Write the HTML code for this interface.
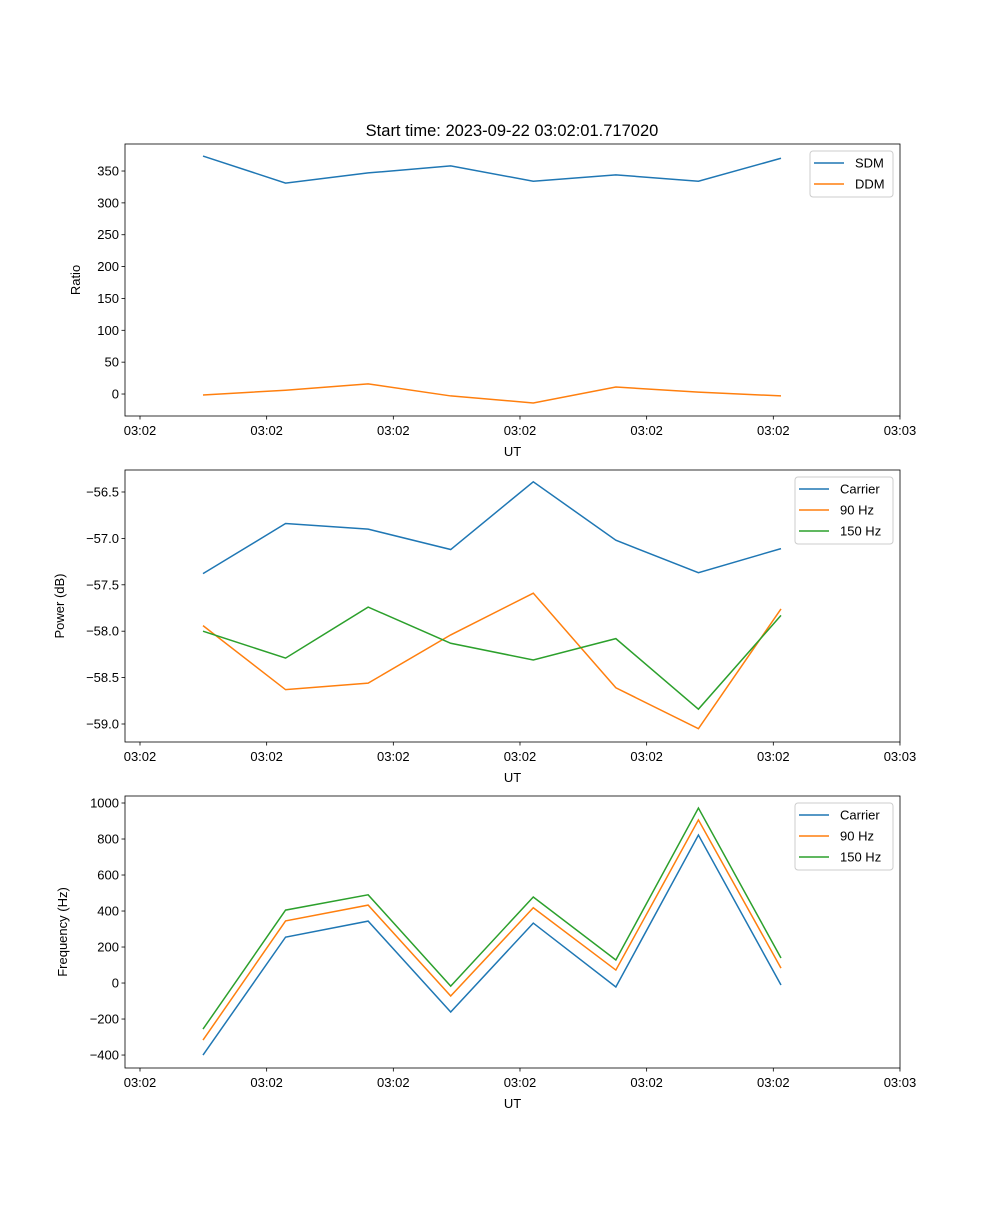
<!DOCTYPE html>
<html><head><meta charset="utf-8"><style>
body{margin:0;background:#fff}
svg text{font-family:"Liberation Sans","DejaVu Sans",sans-serif;fill:#000}
</style></head><body>
<svg id="fig" width="1000" height="1200" xmlns="http://www.w3.org/2000/svg"></svg>
<script>
const xIndex=[0,1,2,3,4,5,6,7];
const xTickPos=[-0.763,0.771,2.305,3.839,5.373,6.907,8.441];
const xTickLabels=["03:02","03:02","03:02","03:02","03:02","03:02","03:03"];
const sdm=[373.5,331,347,358,334,344,334,370];
const ddm=[-1.5,6,16,-3,-14,11,3,-3];
const ratioTicks=[0,50,100,150,200,250,300,350];
const powCarrier=[-57.38,-56.84,-56.90,-57.12,-56.39,-57.02,-57.37,-57.11];
const pow90=[-57.94,-58.63,-58.56,-58.04,-57.59,-58.61,-59.05,-57.76];
const pow150=[-58.0,-58.29,-57.74,-58.13,-58.31,-58.08,-58.84,-57.83];
const powTicks=[-59.0,-58.5,-58.0,-57.5,-57.0,-56.5];
const frqCarrier=[-400,255,344,-161,333,-22,822,-11];
const frq90=[-317,345,433,-72,418,72,906,83];
const frq150=[-256,405,490,-17,478,128,972,139];
const frqTicks=[-400,-200,0,200,400,600,800,1000];

const svg=document.getElementById('fig');
const NS='http://www.w3.org/2000/svg';
function mk(tag,attrs,parent){const e=document.createElementNS(NS,tag);for(const k in attrs)e.setAttribute(k,attrs[k]);(parent||svg).appendChild(e);return e;}
const L=125,R=900;
const xs=i=>203+i*82.57;
const C=['#1f77b4','#ff7f0e','#2ca02c'];

function panel(name,top,bottom,ymin,ymax,ticks,fmt,ylabel,series,labels,legend){
  const g=mk('g',{});
  
  
  const ys=v=>bottom-(v-ymin)/(ymax-ymin)*(bottom-top);
  series.forEach((s,k)=>{
    const p=mk('polyline',{points:s.map((v,i)=>xs(xIndex[i])+','+ys(v)).join(' '),fill:'none',stroke:C[k],'stroke-width':1.5},g);
    
    
  });
  const fr=mk('rect',{x:L,y:top,width:R-L,height:bottom-top,fill:'none',stroke:'#000','stroke-width':0.8},g);
  
  
  ticks.forEach(t=>{const y=ys(t);mk('line',{x1:L-3.5,x2:L,y1:y,y2:y,stroke:'#000','stroke-width':0.8},g);
    const tx=mk('text',{x:L-6,y:y+4.5,'font-size':13,'text-anchor':'end'},g);tx.textContent=fmt(t);
    
    });
  xTickPos.forEach((t,i)=>{const x=xs(t);mk('line',{x1:x,x2:x,y1:bottom,y2:bottom+3.5,stroke:'#000','stroke-width':0.8},g);
    const tx=mk('text',{x:x,y:bottom+19,'font-size':13,'text-anchor':'middle'},g);tx.textContent=xTickLabels[i];
    
    });
  const xl=mk('text',{x:(L+R)/2,y:bottom+40,'font-size':13,'text-anchor':'middle'},g);xl.textContent='UT';
  
  
  const yl=mk('text',{x:0,y:0,'font-size':13,'text-anchor':'middle',transform:`translate(${legend.yl},${(top+bottom)/2}) rotate(-90)`},g);yl.textContent=ylabel;
  
  
  const lg=mk('g',{},g);
  
  
  mk('rect',{x:legend.x,y:top+7,width:R-7-legend.x,height:labels.length*21+4,rx:3,fill:'#fff','fill-opacity':0.8,stroke:'#ccc','stroke-width':1},lg);
  labels.forEach((lb,k)=>{const y=top+19+k*21;
    mk('line',{x1:legend.x+4,x2:legend.x+34,y1:y,y2:y,stroke:C[k],'stroke-width':1.5},lg);
    const t=mk('text',{x:legend.x+45,y:y+4.5,'font-size':13},lg);t.textContent=lb;
    
    });
}
const title=mk('text',{x:512,y:136,'font-size':16.5,'text-anchor':'middle'});
title.textContent='Start time: 2023-09-22 03:02:01.717020';


panel('ratio',144,416,-34.5,392.4,ratioTicks,v=>String(v),'Ratio',[sdm,ddm],['SDM','DDM'],{x:810,yl:80});
panel('power',470,742,-59.194,-56.263,powTicks,v=>'\u2212'+Math.abs(v).toFixed(1),'Power (dB)',[powCarrier,pow90,pow150],['Carrier','90 Hz','150 Hz'],{x:795,yl:64});
panel('frequency',796,1068,-472,1038.9,frqTicks,v=>v<0?'\u2212'+Math.abs(v):String(v),'Frequency (Hz)',[frqCarrier,frq90,frq150],['Carrier','90 Hz','150 Hz'],{x:795,yl:67});
</script>
</body></html>
